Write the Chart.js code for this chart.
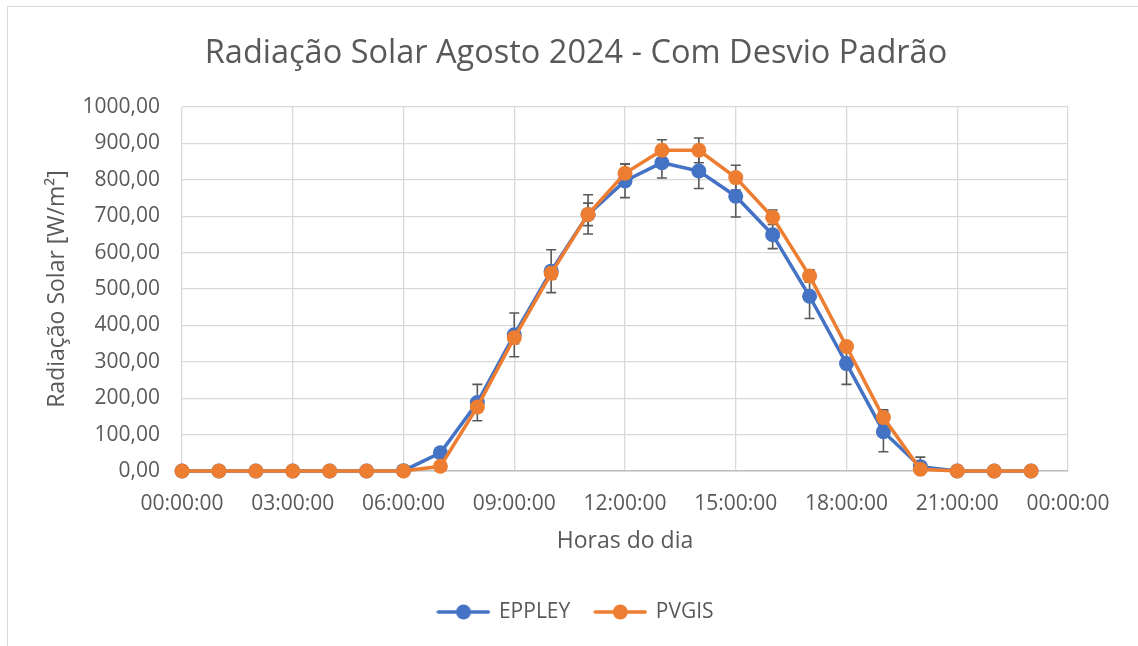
<!DOCTYPE html>
<html lang="pt-BR">
<head>
<meta charset="utf-8">
<title>Radiação Solar Agosto 2024</title>
<script src="https://cdn.jsdelivr.net/npm/chart.js@4.4.1/dist/chart.umd.min.js"></script>
<style>
  html, body { margin: 0; padding: 0; background: #fff; }
  #moldura {
    position: absolute; left: 7px; top: 6px; right: -2px; bottom: -2px;
    border-top: 1.5px solid #d9d9d9; border-left: 1.5px solid #d9d9d9;
  }
  #caixa { position: absolute; left: 0; top: 0; width: 1138px; height: 646px; }
</style>
</head>
<body>
<div id="moldura"></div>
<div id="caixa"><canvas id="grafico" width="1138" height="646"></canvas></div>
<script>
// horas do dia (0 a 23h)
const horas = [0, 1, 2, 3, 4, 5, 6, 7, 8, 9, 10, 11, 12, 13, 14, 15, 16, 17, 18, 19, 20, 21, 22, 23];

// médias horárias em W/m²
const eppley = [0, 0, 0, 0, 0, 0, 1, 50, 188, 374, 549, 705, 797, 847, 824, 755, 649, 480, 295, 108, 12, 0, 0, 0];
const pvgis  = [0, 0, 0, 0, 0, 0, 0, 13, 176, 366, 543, 705, 818, 881, 881, 806, 697, 536, 342, 147, 5, 0, 0, 0];

// desvio padrão de cada hora
const desvioEppley = [0, 0, 0, 0, 0, 0, 0, 14, 50, 60, 59, 54, 46, 42, 48, 57, 38, 61, 57, 55, 26, 0, 0, 0];
const desvioPvgis  = [0, 0, 0, 0, 0, 0, 0, 5, 14, 16, 16, 31, 25, 29, 34, 34, 20, 17, 12, 21, 3, 0, 0, 0];

const AZUL = "#4472c4";
const LARANJA = "#ed7d31";
const CINZA_TEXTO = "#595959";
const FONTE = "'Open Sans', sans-serif";

function pontos(valores) {
  return horas.map((h, i) => ({ x: h, y: valores[i] }));
}

function formatarHora(v) {
  const h = String(v % 24).padStart(2, "0");
  return h + ":00:00";
}

// ícone da legenda: linha com marcador no meio
function iconeLegenda(cor) {
  const c = document.createElement("canvas");
  c.width = 54; c.height = 18;
  const g = c.getContext("2d");
  g.strokeStyle = cor;
  g.lineWidth = 3.5;
  g.lineCap = "round";
  g.beginPath(); g.moveTo(2, 9); g.lineTo(52, 9); g.stroke();
  g.fillStyle = cor;
  g.beginPath(); g.arc(27, 9, 7.5, 0, Math.PI * 2); g.fill();
  return c;
}

// barras de erro (desvio padrão) desenhadas com as escalas do gráfico
const barrasDeErro = {
  id: "barrasDeErro",
  beforeDatasetsDraw(chart) {
    const { ctx, scales: { x, y } } = chart;
    ctx.save();
    ctx.strokeStyle = CINZA_TEXTO;
    ctx.lineWidth = 1.6;
    chart.data.datasets.forEach(ds => {
      ds.data.forEach((p, i) => {
        const d = ds.desvio[i];
        if (!d) return;
        const px = x.getPixelForValue(p.x);
        const yTopo = y.getPixelForValue(p.y + d);
        const yBase = y.getPixelForValue(Math.max(p.y - d, 0));
        ctx.beginPath();
        ctx.moveTo(px, yTopo); ctx.lineTo(px, yBase);
        ctx.moveTo(px - 5, yTopo); ctx.lineTo(px + 5, yTopo);
        ctx.moveTo(px - 5, yBase); ctx.lineTo(px + 5, yBase);
        ctx.stroke();
      });
    });
    ctx.restore();
  }
};

const ctx = document.getElementById("grafico").getContext("2d");

const grafico = new Chart(ctx, {
  type: "line",
  data: {
    datasets: [
      {
        label: "EPPLEY",
        data: pontos(eppley),
        desvio: desvioEppley,
        borderColor: AZUL,
        backgroundColor: AZUL,
        borderWidth: 3.5,
        pointRadius: 7.5,
        pointHoverRadius: 7.5,
        pointBorderWidth: 0,
        tension: 0,
        clip: false,
        order: 2
      },
      {
        label: "PVGIS",
        data: pontos(pvgis),
        desvio: desvioPvgis,
        borderColor: LARANJA,
        backgroundColor: LARANJA,
        borderWidth: 3.5,
        pointRadius: 7.5,
        pointHoverRadius: 7.5,
        pointBorderWidth: 0,
        tension: 0,
        clip: false,
        order: 1   // laranja por cima do azul
      }
    ]
  },
  options: {
    responsive: false,
    animation: false,
    layout: { padding: { left: 84, right: 70, top: 0, bottom: 13.5 } },
    scales: {
      x: {
        type: "linear",
        min: 0,
        max: 24,
        afterFit(scale) { scale.height = 105.5; },
        ticks: {
          stepSize: 3,
          padding: 20,
          maxRotation: 0,
          color: CINZA_TEXTO,
          font: { family: FONTE, size: 21 },
          callback: v => formatarHora(v)
        },
        grid: { color: "#d9d9d9", lineWidth: 1.3, drawTicks: false },
        border: { color: "#bfbfbf", width: 1.6 },
        title: {
          display: true,
          text: "Horas do dia",
          color: CINZA_TEXTO,
          font: { family: FONTE, size: 23 },
          padding: { top: 0, bottom: 21.7 }
        }
      },
      y: {
        min: 0,
        max: 1000,
        afterFit(scale) { scale.width = 98; },
        ticks: {
          stepSize: 100,
          padding: 22,
          color: CINZA_TEXTO,
          font: { family: FONTE, size: 21 },
          callback: v => v.toFixed(2).replace(".", ",")
        },
        grid: { color: "#d9d9d9", lineWidth: 1.3, drawTicks: false },
        border: { display: false },
        title: {
          display: true,
          text: "Radiação Solar [W/m²]",
          color: CINZA_TEXTO,
          font: { family: FONTE, size: 23 },
          // o título fica à esquerda da margem do eixo
          padding: { top: -40, bottom: 0 }
        }
      }
    },
    plugins: {
      title: {
        display: true,
        text: "Radiação Solar Agosto 2024 - Com Desvio Padrão",
        color: CINZA_TEXTO,
        font: { family: FONTE, size: 32.5, weight: "normal" },
        padding: { top: 34, bottom: 34 }
      },
      legend: {
        position: "bottom",
        labels: {
          usePointStyle: true,
          pointStyleWidth: 50,
          padding: 25,
          color: CINZA_TEXTO,
          font: { family: FONTE, size: 21 },
          sort: (a, b) => a.datasetIndex - b.datasetIndex,
          generateLabels(chart) {
            const itens = Chart.defaults.plugins.legend.labels.generateLabels(chart);
            itens.forEach(it => {
              it.pointStyle = iconeLegenda(chart.data.datasets[it.datasetIndex].borderColor);
            });
            return itens;
          }
        }
      },
      tooltip: { enabled: false }
    }
  },
  plugins: [barrasDeErro]
});
</script>
</body>
</html>
